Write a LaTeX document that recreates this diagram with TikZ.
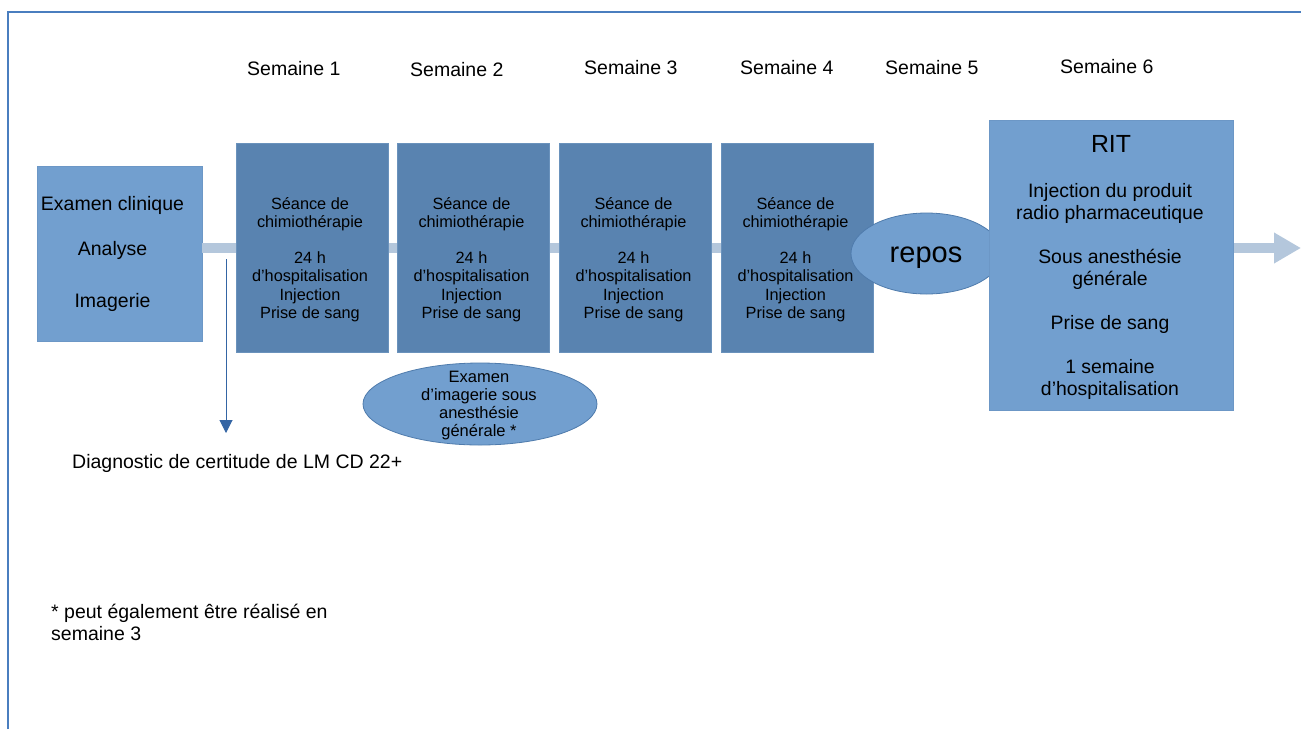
\documentclass[tikz,border=0pt]{standalone}
\usepackage{fontspec}
\setmainfont{Liberation Sans}
\usetikzlibrary{shapes.geometric,arrows.meta}
\definecolor{framec}{HTML}{4A7EBF}
\definecolor{lightfill}{HTML}{729FCF}
\definecolor{lightedge}{HTML}{6C97C6}
\definecolor{darkfill}{HTML}{5983B0}
\definecolor{darkedge}{HTML}{6A92BC}
\definecolor{elledge}{HTML}{4F7BAC}
\definecolor{connc}{HTML}{B4C7DC}
\definecolor{diagc}{HTML}{3465A4}
\tikzset{
  lightbox/.style={rectangle, fill=lightfill, draw=lightedge, line width=0.8pt, inner sep=0pt, outer sep=0pt},
  darkbox/.style={rectangle, fill=darkfill, draw=darkedge, line width=0.8pt, inner sep=0pt, outer sep=0pt, minimum width=152pt, minimum height=209pt},
  oval/.style={ellipse, fill=lightfill, draw=elledge, line width=0.8pt, inner sep=0pt},
  txt/.style={inner sep=0pt, align=center, text=black},
  bigtxt/.style={txt, font=\fontsize{19.5}{22}\selectfont},
  smalltxt/.style={txt, font=\fontsize{16.3}{18.2}\selectfont},
  conn/.style={draw=connc, line width=10pt, -{Triangle[length=27pt,width=29pt]}},
  diag/.style={draw=diagc, line width=1pt, -{Triangle[length=13pt,width=13pt]}}
}
\begin{document}
\begin{tikzpicture}[x=1pt,y=-1pt]
\useasboundingbox (0,0) rectangle (1301,729);
\fill[white] (0,0) rectangle (1301,729);
% frame
\draw[framec, line width=1.5pt] (8,729) -- (8,12) -- (1301,12);

% week labels
\node[bigtxt, anchor=base west] (s1) at (247,75) {Semaine 1};
\node[bigtxt, anchor=base west] (s2) at (410,76) {Semaine 2};
\node[bigtxt, anchor=base west] (s3) at (584,74) {Semaine 3};
\node[bigtxt, anchor=base west] (s4) at (740,74) {Semaine 4};
\node[bigtxt, anchor=base west] (s5) at (885,74) {Semaine 5};
\node[bigtxt, anchor=base west] (s6) at (1060,73) {Semaine 6};

% first box
\node[lightbox, minimum width=165pt, minimum height=175pt] (b0) at (119.5,253.5) {};

% main timeline connector (drawn behind the later boxes)
\coordinate (tip) at (1301,248);
\draw[conn] (b0.east |- tip) -- (tip);

\node[bigtxt] (t0) at (112.5,253.5) {Examen clinique\\[23pt]Analyse\\[30pt]Imagerie};

% chemo boxes
\node[darkbox] (b1) at (312,247.5) {};
\node[darkbox] (b2) at (473.5,247.5) {};
\node[darkbox] (b3) at (635.5,247.5) {};
\node[darkbox] (b4) at (797.5,247.5) {};
\foreach \b/\x in {1/310,2/471.5,3/633.5,4/795.5}{
  \node[smalltxt] (t\b) at (\x,259.3) {Séance de\\chimiothérapie\\[18.2pt]24 h\\d’hospitalisation\\Injection\\Prise de sang};
}

% repos
\node[oval, minimum width=151pt, minimum height=81pt] (rep) at (926.5,253.5) {};
\node[txt, font=\fontsize{29}{32}\selectfont, anchor=base] (rept) at (926,262) {repos};

% RIT box
\node[lightbox, minimum width=244pt, minimum height=290pt] (rit) at (1111,265) {};
\node[txt, font=\fontsize{24.8}{28}\selectfont, anchor=base] (ritt) at (1111,152) {RIT};
\node[bigtxt, font=\fontsize{19.4}{22}\selectfont] (ritb) at (1110,291)
  {Injection du produit\\radio pharmaceutique\\[22pt]Sous anesthésie\\générale\\[22pt]Prise de sang\\[22pt]1 semaine\\d’hospitalisation};

% exam ellipse
\node[oval, minimum width=234pt, minimum height=82pt] (exam) at (480,404) {};
\node[txt, font=\fontsize{16.5}{18.3}\selectfont] (examt) at (479,405.5) {Examen\\d’imagerie sous\\anesthésie\\générale *};

% diagnostic arrow
\coordinate (d1) at (226,259);
\coordinate (d2) at (226,433);
\draw[diag] (d1) -- (d2);
\node[bigtxt, anchor=base west] (diagt) at (72,468) {Diagnostic de certitude de LM CD 22+};

% footnote
\node[bigtxt, anchor=base west, align=left] (foot) at (51,640) {* peut également être réalisé en\\semaine 3};
\end{tikzpicture}
\end{document}
